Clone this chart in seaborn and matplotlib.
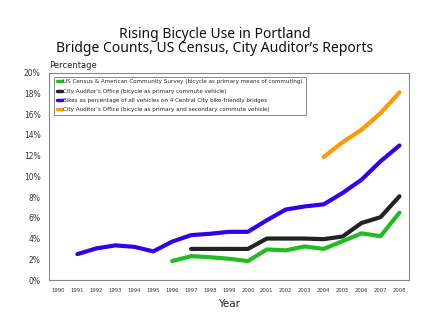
import matplotlib
matplotlib.use("Agg")
import matplotlib.pyplot as plt
import seaborn as sns
import pandas as pd
import numpy as np

sns.set_style("white")
plt.rcParams['font.family'] = ['DejaVu Sans']

years_census = [1996, 1997, 1998, 1999, 2000, 2001, 2002, 2003, 2004, 2005, 2006, 2007, 2008]
census = [1.83, 2.3, 2.2, 2.05, 1.83, 2.95, 2.86, 3.24, 3.0, 3.75, 4.5, 4.23, 6.5]

years_auditor = [1997, 1998, 1999, 2000, 2001, 2002, 2003, 2004, 2005, 2006, 2007, 2008]
auditor = [3.0, 3.0, 3.0, 3.0, 4.0, 4.0, 4.0, 3.94, 4.2, 5.5, 6.06, 8.08]

years_bridges = [1991, 1992, 1993, 1994, 1995, 1996, 1997, 1998, 1999, 2000,
                 2001, 2002, 2003, 2004, 2005, 2006, 2007, 2008]
bridges = [2.5, 3.05, 3.34, 3.2, 2.76, 3.7, 4.33, 4.46, 4.65, 4.65,
           5.77, 6.8, 7.1, 7.3, 8.4, 9.68, 11.45, 12.98]

years_secondary = [2004, 2005, 2006, 2007, 2008]
secondary = [11.87, 13.3, 14.5, 16.1, 18.1]

labels = [
    "US Census & American Community Survey (bicycle as primary means of commuting)",
    "City Auditor's Office (bicycle as primary commute vehicle)",
    "Bikes as percentage of all vehicles on 4 Central City bike-friendly bridges",
    "City Auditor's Office (bicycle as primary and secondary commute vehicle)",
]
colors = ["#22bb22", "#222222", "#3300ee", "#ff9900"]
x_ticks = list(range(1990, 2009))
y_ticks = list(range(0, 21, 2))

frames = []
for lab, yrs, vals in zip(labels, [years_census, years_auditor, years_bridges, years_secondary],
                          [census, auditor, bridges, secondary]):
    frames.append(pd.DataFrame({"Year": yrs, "Value": vals, "Series": lab}))
df = pd.concat(frames, ignore_index=True)

fig = plt.figure(figsize=(4.3, 3.32), dpi=100)
ax = fig.add_axes([0.114, 0.1566, 0.837, 0.6244])

sns.lineplot(data=df, x="Year", y="Value", hue="Series", hue_order=labels,
             palette=colors, linewidth=3.0, ax=ax, legend=True)

ax.set_xlim(1989.5, 2008.5)
ax.set_ylim(0, 20)
ax.set_xticks(x_ticks)
ax.set_xticklabels([str(y) for y in x_ticks], fontsize=3.8, color="#333333")
ax.set_yticks(y_ticks)
ax.set_yticklabels([f"{y}%" for y in y_ticks], fontsize=5.5, color="#333333")
ax.tick_params(axis="both", length=0)
ax.tick_params(axis="x", pad=6)
ax.tick_params(axis="y", pad=6)
ax.set_xlabel("Year", fontsize=7.5, color="#222222", labelpad=4)
ax.set_ylabel("")
for s in ax.spines.values():
    s.set_color("#888888")
    s.set_linewidth(0.8)

leg = ax.legend(loc="upper left", fontsize=4.1, frameon=True, fancybox=False,
                handlelength=0.9, handletextpad=0.3, borderpad=0.5,
                labelspacing=0.75, bbox_to_anchor=(0.005, 0.995))
leg.get_frame().set_edgecolor("#555555")
leg.get_frame().set_linewidth(0.6)
for line in leg.get_lines():
    line.set_linewidth(2.5)

fig.text(0.1135, 0.79, "Percentage", fontsize=6, color="#222222", ha="left", va="bottom")
fig.text(0.5, 0.8864, "Rising Bicycle Use in Portland", family=["Noto Sans", "DejaVu Sans"],
         fontsize=10, ha="center", va="baseline", color="#111111")
fig.text(0.5, 0.8443, "Bridge Counts, US Census, City Auditor\u2019s Reports", family=["Noto Sans", "DejaVu Sans"],
         fontsize=10, ha="center", va="baseline", color="#111111")

fig.savefig("out.png", dpi=100)
